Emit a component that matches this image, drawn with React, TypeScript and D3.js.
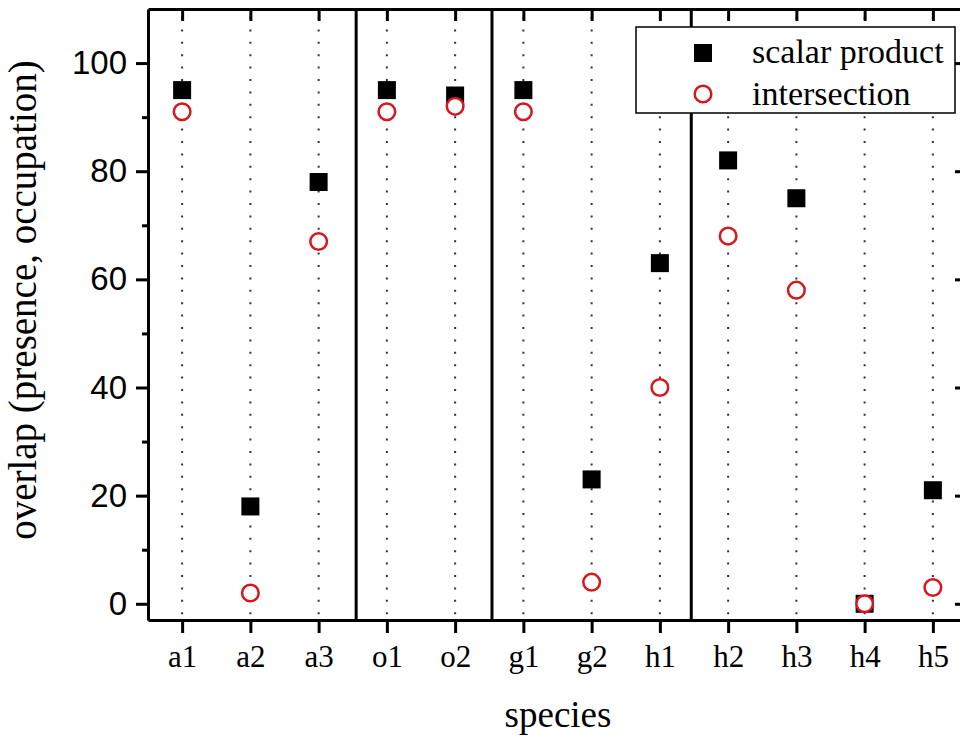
import React, { useEffect, useRef } from 'react';
import * as d3 from 'd3';

// categories along the x axis
const species = ['a1', 'a2', 'a3', 'o1', 'o2', 'g1', 'g2', 'h1', 'h2', 'h3', 'h4', 'h5'];
// overlap values (%)
const scalarProduct = [95, 18, 78, 95, 94, 95, 23, 63, 82, 75, 0, 21];
const intersection = [91, 2, 67, 91, 92, 91, 4, 40, 68, 58, 0, 3];
// y ticks
const yMajorTicks = [0, 20, 40, 60, 80, 100];
const yMinorTicks = [10, 30, 50, 70, 90];
// group separators, in category units (a1 = 1)
const groupBreaks = [3.55, 5.54, 8.46];

const serif = "'Liberation Serif', 'Times New Roman', serif";
const sans = "'Liberation Sans', Arial, sans-serif";
const red = '#d9161c';

const App = () => {
  const svgRef = useRef<SVGSVGElement>(null);

  useEffect(() => {
    const svg = d3.select(svgRef.current);
    svg.selectAll('*').remove();

    const width = 960;
    const height = 738;
    const left = 148, right = 967, top = 9, bottom = 620;

    const x = d3.scaleLinear().domain([0.5, species.length + 0.5]).range([left, right]);
    const y = d3.scaleLinear().domain([-3, 110]).range([bottom, top]);
    const idx = d3.range(1, species.length + 1);

    svg.attr('width', width).attr('height', height);

    // dotted guide lines at each category
    svg.append('g')
      .selectAll('line')
      .data(idx)
      .enter().append('line')
      .attr('x1', d => x(d)).attr('x2', d => x(d))
      .attr('y1', top + 2).attr('y2', bottom)
      .attr('stroke', '#333')
      .attr('stroke-width', 2)
      .attr('stroke-dasharray', '2,10.4')
      .attr('stroke-dashoffset', -6);

    // group separators
    svg.append('g')
      .selectAll('line')
      .data(groupBreaks)
      .enter().append('line')
      .attr('x1', d => x(d)).attr('x2', d => x(d))
      .attr('y1', top).attr('y2', bottom)
      .attr('stroke', '#000')
      .attr('stroke-width', 3);

    const styleAxis = (g: any) => {
      g.select('.domain').attr('stroke', '#000').attr('stroke-width', 3);
      g.selectAll('.tick line').attr('stroke', '#000').attr('stroke-width', 3);
    };

    // left axis
    const yAxis = svg.append('g')
      .attr('transform', `translate(${left},0)`)
      .call(d3.axisLeft(y).tickValues(yMajorTicks).tickSize(12).tickSizeOuter(0).tickPadding(9).tickFormat(d3.format('d')))
      .call(styleAxis);
    yAxis.selectAll('.tick text')
      .attr('fill', '#000')
      .style('font-family', sans)
      .style('font-size', '33px');

    svg.append('g')
      .attr('transform', `translate(${left},0)`)
      .call(d3.axisLeft(y).tickValues(yMinorTicks).tickSize(6).tickFormat(() => ''))
      .call(styleAxis)
      .call(g => g.select('.domain').remove());

    // right axis (mostly outside the picture)
    svg.append('g')
      .attr('transform', `translate(${right},0)`)
      .call(d3.axisRight(y).tickValues(yMajorTicks).tickSize(-12).tickSizeOuter(0).tickFormat(() => ''))
      .call(styleAxis);
    svg.append('g')
      .attr('transform', `translate(${right},0)`)
      .call(d3.axisRight(y).tickValues(yMinorTicks).tickSize(-6).tickFormat(() => ''))
      .call(styleAxis)
      .call(g => g.select('.domain').remove());

    // bottom axis
    const xAxis = svg.append('g')
      .attr('transform', `translate(0,${bottom})`)
      .call(d3.axisBottom(x).tickValues(idx).tickSize(13).tickSizeOuter(0).tickPadding(12).tickFormat(d => species[(d as number) - 1]))
      .call(styleAxis);
    xAxis.selectAll('.tick text')
      .attr('fill', '#000')
      .style('font-family', serif)
      .style('font-size', '31px');

    // top axis, ticks inward
    svg.append('g')
      .attr('transform', `translate(0,${top})`)
      .call(d3.axisTop(x).tickValues(idx).tickSize(-12).tickSizeOuter(0).tickFormat(() => ''))
      .call(styleAxis);

    // scalar product squares
    const sq = 18;
    svg.append('g')
      .selectAll('rect')
      .data(scalarProduct)
      .enter().append('rect')
      .attr('x', (d, i) => x(i + 1) - sq / 2)
      .attr('y', d => y(d) - sq / 2)
      .attr('width', sq).attr('height', sq)
      .attr('fill', '#000');

    // intersection circles
    svg.append('g')
      .selectAll('circle')
      .data(intersection)
      .enter().append('circle')
      .attr('cx', (d, i) => x(i + 1))
      .attr('cy', d => y(d))
      .attr('r', 8.3)
      .attr('fill', '#fff')
      .attr('stroke', red)
      .attr('stroke-width', 2.5);

    // axis titles
    svg.append('text')
      .attr('transform', 'translate(36,300) rotate(-90)')
      .attr('text-anchor', 'middle')
      .style('font-family', serif)
      .style('font-size', '39px')
      .text('overlap (presence, occupation)');

    svg.append('text')
      .attr('x', 558).attr('y', 727)
      .attr('text-anchor', 'middle')
      .style('font-family', serif)
      .style('font-size', '37px')
      .text('species');

    // legend
    const legend = svg.append('g');
    legend.append('rect')
      .attr('x', 636).attr('y', 27).attr('width', 319).attr('height', 86)
      .attr('fill', '#fff').attr('stroke', '#000').attr('stroke-width', 1.5);
    legend.append('rect')
      .attr('x', 703 - sq / 2).attr('y', 53 - sq / 2).attr('width', sq).attr('height', sq)
      .attr('fill', '#000');
    legend.append('circle')
      .attr('cx', 703).attr('cy', 94).attr('r', 8.3)
      .attr('fill', '#fff').attr('stroke', red).attr('stroke-width', 2.5);
    legend.append('text')
      .attr('x', 752).attr('y', 63)
      .style('font-family', serif).style('font-size', '34px')
      .text('scalar product');
    legend.append('text')
      .attr('x', 752).attr('y', 105)
      .style('font-family', serif).style('font-size', '34px')
      .text('intersection');
  }, []);

  return (
    <svg
      ref={svgRef}
      style={{ position: 'absolute', left: 0, top: 0, display: 'block', background: '#fff' }}
    />
  );
};

export default App;
